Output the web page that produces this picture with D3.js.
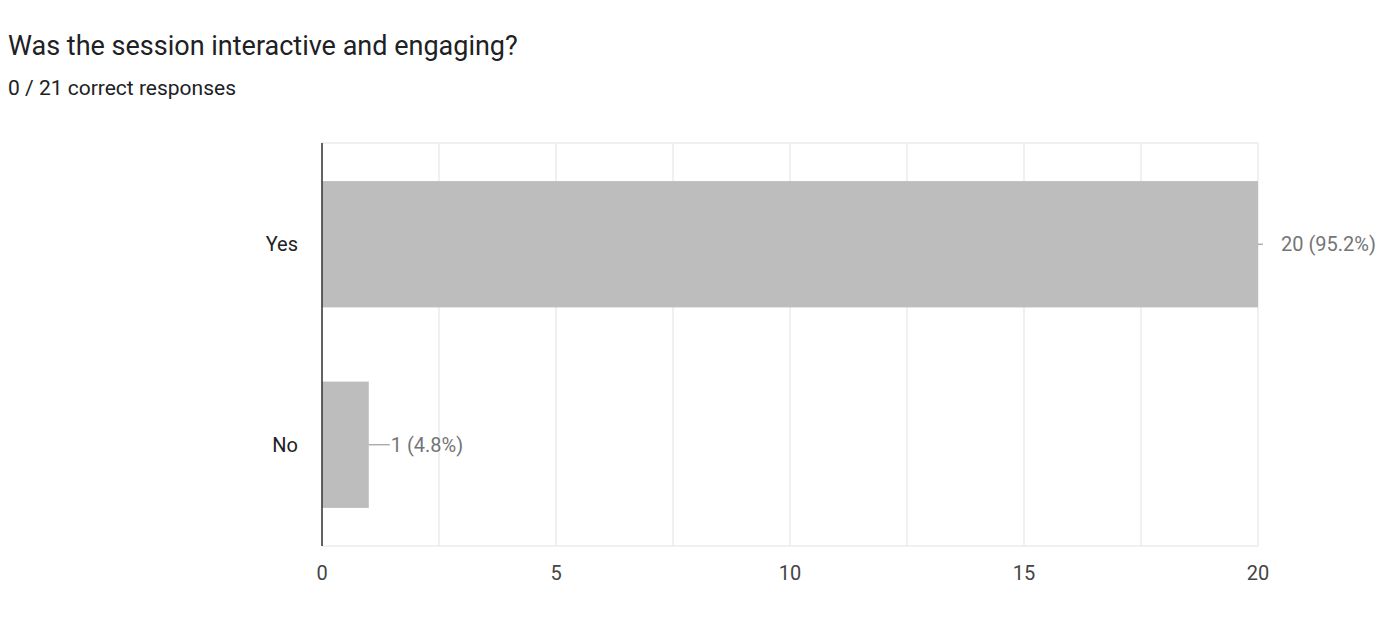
<!DOCTYPE html>
<html><head><meta charset="utf-8">
<script src="https://cdn.jsdelivr.net/npm/d3@7"></script>
<style>body{margin:0;background:#fff;font-family:Roboto,Arial,sans-serif;overflow:hidden}</style>
</head><body>
<svg id="c" width="1391" height="626"></svg>
<script>
const categories = ["Yes", "No"];
const counts = [20, 1];
const labels = ["20 (95.2%)", "1 (4.8%)"];
const xTicks = [0, 5, 10, 15, 20];

const svg = d3.select("#c");
svg.append("text").attr("x", 8).attr("y", 55).attr("font-size", 27).attr("fill", "#202124")
  .text("Was the session interactive and engaging?");
svg.append("text").attr("x", 8).attr("y", 95).attr("font-size", 21).attr("fill", "#202124")
  .text("0 / 21 correct responses");

const x = d3.scaleLinear().domain([0, 20]).range([322, 1258]);
const y = d3.scaleBand().domain(categories).range([143, 546]).paddingInner(0.37).paddingOuter(0.19);

// grid
svg.append("g").selectAll("line").data(d3.range(0, 20.01, 2.5)).join("line")
  .attr("x1", d => x(d)).attr("x2", d => x(d)).attr("y1", 143).attr("y2", 546)
  .attr("stroke", "#ebebeb").attr("stroke-width", 1.5);
svg.append("line").attr("x1", 322).attr("x2", 1258).attr("y1", 143).attr("y2", 143).attr("stroke", "#ebebeb").attr("stroke-width", 1.5);
svg.append("line").attr("x1", 322).attr("x2", 1258).attr("y1", 546).attr("y2", 546).attr("stroke", "#ebebeb").attr("stroke-width", 1.5);

// bars
svg.append("g").selectAll("rect").data(counts).join("rect")
  .attr("x", x(0)).attr("y", (d, i) => y(categories[i]))
  .attr("width", d => x(d) - x(0)).attr("height", y.bandwidth())
  .attr("fill", "#bdbdbd");

// leader lines + value labels
const g = svg.append("g");
counts.forEach((d, i) => {
  const cy = y(categories[i]) + y.bandwidth() / 2;
  const ex = x(d);
  const len = d === 20 ? 5 : 21;
  g.append("line").attr("x1", ex).attr("x2", ex + len).attr("y1", cy).attr("y2", cy)
    .attr("stroke", "#9e9e9e").attr("stroke-width", 1.2);
  g.append("text").attr("x", d === 20 ? ex + 23 : ex + len + 1).attr("y", cy + 7)
    .attr("font-size", 20).attr("fill", "#757575").text(labels[i]);
});

// category labels
svg.append("g").selectAll("text").data(categories).join("text")
  .attr("x", 298).attr("y", d => y(d) + y.bandwidth() / 2 + 7)
  .attr("text-anchor", "end").attr("font-size", 20).attr("fill", "#222").text(d => d);

// x tick labels
svg.append("g").selectAll("text").data(xTicks).join("text")
  .attr("x", d => x(d)).attr("y", 580).attr("text-anchor", "middle")
  .attr("font-size", 20).attr("fill", "#444").text(d => d);

// baseline
svg.append("line").attr("x1", 322).attr("x2", 322).attr("y1", 143).attr("y2", 546)
  .attr("stroke", "#333").attr("stroke-width", 1.5);
</script>
</body></html>
